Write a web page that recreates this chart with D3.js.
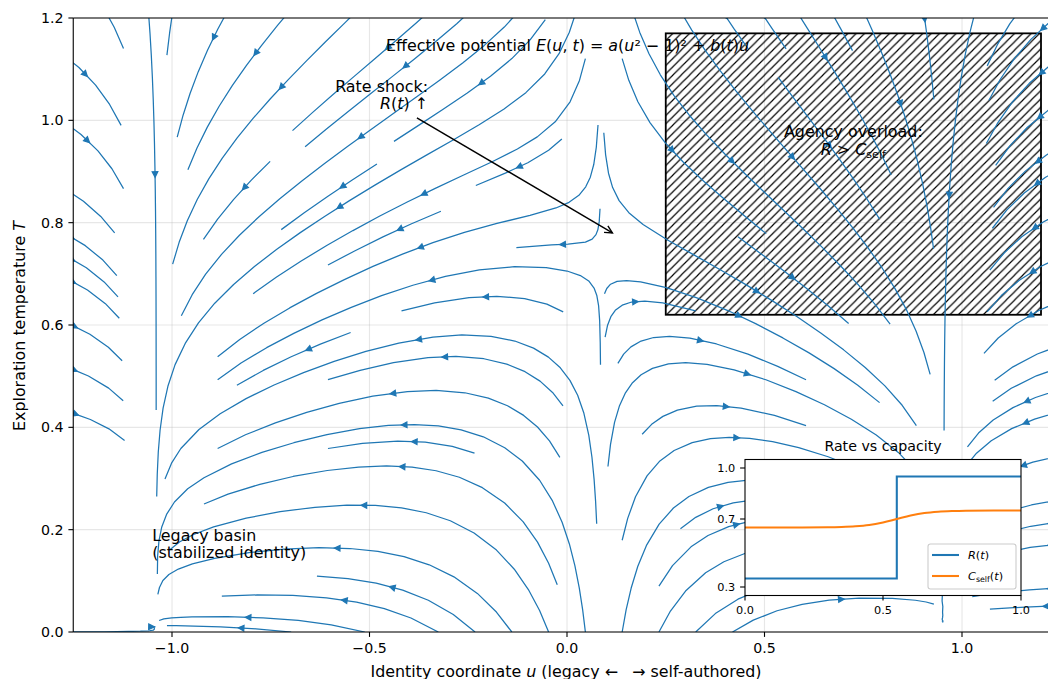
<!DOCTYPE html>
<html><head><meta charset="utf-8">
<script src="https://cdn.jsdelivr.net/npm/d3@7"></script>
<style>
body{margin:0;background:#fff;}
svg{display:block;font-family:"DejaVu Sans",sans-serif;}
text{white-space:pre;}
</style></head><body>
<svg id="chart" width="1048" height="679"></svg>
<script>
// ---------------- data ----------------
const uDomain = [-1.25, 1.25];
const tDomain = [0, 1.2];
const xTicks = [-1.0, -0.5, 0.0, 0.5, 1.0];
const yTicks = [0.0, 0.2, 0.4, 0.6, 0.8, 1.0, 1.2];
// field sampling extent (wider than the visible axes; lines are clipped)
const fieldU = [-1.35, 1.35];
const fieldT = [0, 1.3];
// Effective potential E(u) = a(u^2-1)^2 + b u ; temperature relaxes toward a heating bump
const potentialA = 1.0;
const tiltB = 0.34;
const heatAmp = 0.75;
const heatWidth = 0.354;
const relaxRate = 1.45;
const streamDensity = 1.0;
// agency overload region
const overloadU = [0.25, 1.2];
const overloadT = [0.62, 1.17];
// rate shock annotation arrow (tail, head) in data coords
const shockTail = [-0.38, 1.005];
const shockHead = [0.115, 0.78];
// inset: rate vs capacity
const insetXTicks = [0.0, 0.5, 1.0];
const insetYTicks = [0.3, 0.7, 1.0];
const rateT = [0.0, 0.55, 0.55, 1.0];
const rateR = [0.35, 0.35, 0.95, 0.95];
const capT = [0.0, 0.1, 0.2, 0.3, 0.35, 0.4, 0.45, 0.5, 0.55, 0.6, 0.65, 0.7, 0.75, 0.8, 0.9, 1.0];
const capC = [0.65, 0.65, 0.65, 0.651, 0.653, 0.657, 0.665, 0.68, 0.70, 0.72, 0.735, 0.743, 0.747, 0.749, 0.75, 0.75];

// ---------------- layout ----------------
const FS = 14.2, FSL = 15.9, FSs = 11.3;
const blue = "#1f77b4", orange = "#ff7f0e";
const x = d3.scaleLinear().domain(uDomain).range([73.25, 1060.75]);
const y = d3.scaleLinear().domain(tDomain).range([632, 18]);
const svg = d3.select("#chart");

svg.append("defs").append("clipPath").attr("id","axclip")
  .append("rect").attr("x",x.range()[0]).attr("y",y.range()[1])
  .attr("width",x.range()[1]-x.range()[0]).attr("height",y.range()[0]-y.range()[1]);
const hp = 100/12;
svg.select("defs").append("pattern").attr("id","hatch").attr("patternUnits","userSpaceOnUse")
  .attr("width",hp).attr("height",hp).attr("patternTransform","translate(6.3,0)")
  .append("path").attr("d",`M-1,1 L1,-1 M0,${hp} L${hp},0 M${hp-1},${hp+1} L${hp+1},${hp-1}`)
  .attr("stroke","#000").attr("stroke-width",1.15);

// grid
const grid = svg.append("g");
xTicks.forEach(t=>grid.append("line").attr("x1",x(t)).attr("x2",x(t)).attr("y1",y.range()[0]).attr("y2",y.range()[1]).attr("stroke","#b0b0b0").attr("stroke-opacity",0.3).attr("stroke-width",1.1));
yTicks.forEach(t=>grid.append("line").attr("y1",y(t)).attr("y2",y(t)).attr("x1",x.range()[0]).attr("x2",x.range()[1]).attr("stroke","#b0b0b0").attr("stroke-opacity",0.3).attr("stroke-width",1.1));

// overload box
svg.append("rect").attr("x",x(overloadU[0])).attr("y",y(overloadT[1]))
  .attr("width",x(overloadU[1])-x(overloadU[0])).attr("height",y(overloadT[0])-y(overloadT[1]))
  .attr("fill","url(#hatch)").attr("stroke","#000").attr("stroke-width",1.8);

// ---------------- vector field + streamplot (matplotlib algorithm) ----------------
function field(u, T){
  const du = -(potentialA*4*u*(u*u-1) + tiltB);
  const dT = relaxRate*(heatAmp*Math.exp(-u*u/(2*heatWidth*heatWidth)) - T);
  return [du, dT];
}
const NG = 140;
const xs = d3.range(NG).map(i=>fieldU[0]+i*(fieldU[1]-fieldU[0])/(NG-1));
const ys = d3.range(NG).map(i=>fieldT[0]+i*(fieldT[1]-fieldT[0])/(NG-1));

function pyRound(v){ const f=Math.floor(v), d=v-f; if(d>0.5) return f+1; if(d<0.5) return f; return (f%2===0)?f:f+1; }

function streamplot(xs, ys, density){
  const gnx=xs.length, gny=ys.length, gdx=xs[1]-xs[0], gdy=ys[1]-ys[0];
  const mnx=Math.floor(30*density), mny=Math.floor(30*density);
  const mask=new Uint8Array(mnx*mny);
  const xg2m=(mnx-1)/(gnx-1), yg2m=(mny-1)/(gny-1);
  const ug=new Float64Array(gnx*gny), vg=new Float64Array(gnx*gny), sp=new Float64Array(gnx*gny);
  for(let j=0;j<gny;j++) for(let i=0;i<gnx;i++){
    const [a,b]=field(xs[i],ys[j]); const k=j*gnx+i;
    ug[k]=a/gdx; vg[k]=b/gdy; sp[k]=Math.hypot(ug[k]/(gnx-1), vg[k]/(gny-1));
  }
  function interp(a,xi,yi){
    const xx=Math.floor(xi), yy=Math.floor(yi);
    const xn= xx===gnx-1?xx:xx+1, yn= yy===gny-1?yy:yy+1;
    const a00=a[yy*gnx+xx], a01=a[yy*gnx+xn], a10=a[yn*gnx+xx], a11=a[yn*gnx+xn];
    const xt=xi-xx, yt=yi-yy;
    const a0=a00*(1-xt)+a01*xt, a1=a10*(1-xt)+a11*xt;
    return a0*(1-yt)+a1*yt;
  }
  const within=(xi,yi)=>xi>=0&&xi<=gnx-1&&yi>=0&&yi<=gny-1;
  const OOB={}, TERM={}, INV={};
  let cur=null, traj=[];
  const g2m=(xg,yg)=>[pyRound(xg*xg2m), pyRound(yg*yg2m)];
  function maskUpdate(xm,ym){
    if(cur===null||cur[0]!==xm||cur[1]!==ym){
      const k=ym*mnx+xm;
      if(mask[k]===0){ traj.push(k); mask[k]=1; cur=[xm,ym]; }
      else throw INV;
    }
  }
  function fwd(xi,yi){
    if(!within(xi,yi)) throw OOB;
    const s=interp(sp,xi,yi);
    if(s===0) throw TERM;
    return [interp(ug,xi,yi)/s, interp(vg,xi,yi)/s];
  }
  function bwd(xi,yi){ const r=fwd(xi,yi); return [-r[0],-r[1]]; }
  const maxds=Math.min(1/mnx,1/mny,0.1);
  function euler(out,f){
    const [xi,yi]=out[out.length-1];
    const [cx,cy]=f(xi,yi);
    let dsx,dsy;
    if(cx===0) dsx=Infinity; else if(cx<0) dsx=xi/-cx; else dsx=(gnx-1-xi)/cx;
    if(cy===0) dsy=Infinity; else if(cy<0) dsy=yi/-cy; else dsy=(gny-1-yi)/cy;
    const ds=Math.min(dsx,dsy);
    out.push([xi+cx*ds, yi+cy*ds]);
    return ds;
  }
  function rk12(x0,y0,f,maxlength){
    const maxerror=0.003;
    let ds=maxds, stotal=0, xi=x0, yi=y0; const out=[];
    while(true){
      let k1,k2;
      try{
        if(within(xi,yi)) out.push([xi,yi]); else throw OOB;
        k1=f(xi,yi);
        k2=f(xi+ds*k1[0], yi+ds*k1[1]);
      }catch(e){
        if(e===OOB){ if(out.length){ try{ stotal+=euler(out,f);}catch(e2){} } break; }
        if(e===TERM) break;
        throw e;
      }
      const dx1=ds*k1[0], dy1=ds*k1[1], dx2=ds*0.5*(k1[0]+k2[0]), dy2=ds*0.5*(k1[1]+k2[1]);
      const error=Math.hypot((dx2-dx1)/(gnx-1),(dy2-dy1)/(gny-1));
      if(error<maxerror){
        xi+=dx2; yi+=dy2;
        try{
          if(!within(xi,yi)) throw INV;
          const [xm,ym]=g2m(xi,yi); maskUpdate(xm,ym);
        }catch(e){ if(e===INV) break; throw e; }
        if(stotal+ds>maxlength) break;
        stotal+=ds;
      }
      ds = error===0 ? maxds : Math.min(maxds, 0.85*ds*Math.sqrt(maxerror/error));
    }
    return [stotal,out];
  }
  const minlength=0.1, maxlength=4.0;
  function integrate(x0,y0){
    traj=[];
    try{ const [xm,ym]=g2m(x0,y0); maskUpdate(xm,ym);}catch(e){ if(e===INV) return null; throw e; }
    let stotal=0, xy=[];
    let [s,t]=rk12(x0,y0,bwd,maxlength);
    stotal+=s; xy=t.slice().reverse();
    cur=g2m(x0,y0);
    [s,t]=rk12(x0,y0,fwd,maxlength);
    stotal+=s; xy=xy.concat(t.slice(1));
    if(stotal>minlength) return xy;
    for(const k of traj) mask[k]=0;
    return null;
  }
  const trajs=[];
  let xf=0, yf=1, xl=mnx-1, yl=mny-1, px=0, py=0, dir=0;
  for(let i=0;i<mnx*mny;i++){
    if(mask[py*mnx+px]===0){
      const t=integrate(px/xg2m, py/yg2m);
      if(t) trajs.push(t.map(([a,b])=>[a*gdx+xs[0], b*gdy+ys[0]]));
    }
    if(dir===0){ px++; if(px>=xl){ xl--; dir=1; } }
    else if(dir===1){ py++; if(py>=yl){ yl--; dir=2; } }
    else if(dir===2){ px--; if(px<=xf){ xf++; dir=3; } }
    else { py--; if(py<=yf){ yf++; dir=0; } }
  }
  return trajs;
}

const trajs = streamplot(xs, ys, streamDensity);
const sg = svg.append("g").attr("clip-path","url(#axclip)");
const line = d3.line().x(d=>x(d[0])).y(d=>y(d[1]));
sg.selectAll("path.sl").data(trajs).enter().append("path").attr("class","sl")
  .attr("d",line).attr("fill","none").attr("stroke",blue).attr("stroke-width",1.25)
  .attr("stroke-linejoin","round").attr("stroke-linecap","butt");
// arrows at half-length
const HL=5.56, HW=2.78;
trajs.forEach(t=>{
  if(t.length<2) return;
  const s=[]; let acc=0;
  for(let i=1;i<t.length;i++){ acc+=Math.hypot(t[i][0]-t[i-1][0], t[i][1]-t[i-1][1]); s.push(acc); }
  const half=acc/2; let n=0; while(n<s.length && s[n]<half) n++;
  if(n>=t.length-1) n=t.length-2;
  const tail=[x(t[n][0]), y(t[n][1])];
  const head=[x((t[n][0]+t[n+1][0])/2), y((t[n][1]+t[n+1][1])/2)];
  let dx=head[0]-tail[0], dy=head[1]-tail[1]; const L=Math.hypot(dx,dy);
  if(L===0) return; dx/=L; dy/=L;
  const bx=head[0]-dx*HL, by=head[1]-dy*HL;
  const p=[[head[0],head[1]],[bx-dy*HW,by+dx*HW],[bx+dy*HW,by-dx*HW]];
  sg.append("path").attr("d","M"+p.map(q=>q.join(",")).join("L")+"Z")
    .attr("fill",blue).attr("stroke",blue).attr("stroke-width",1.25).attr("stroke-linejoin","miter");
});

// ---------------- axes ----------------
const ax = svg.append("g");
ax.append("line").attr("x1",x.range()[0]).attr("x2",x.range()[0]).attr("y1",y.range()[0]).attr("y2",y.range()[1]).attr("stroke","#000").attr("stroke-width",1.1);
ax.append("line").attr("x1",x.range()[0]).attr("x2",x.range()[1]).attr("y1",y.range()[0]).attr("y2",y.range()[0]).attr("stroke","#000").attr("stroke-width",1.1);
ax.append("line").attr("x1",x.range()[0]).attr("x2",x.range()[1]).attr("y1",y.range()[1]).attr("y2",y.range()[1]).attr("stroke","#000").attr("stroke-width",1.1);
const fmt = v => d3.format(".1f")(v).replace("-","−");
xTicks.forEach(t=>{
  ax.append("line").attr("x1",x(t)).attr("x2",x(t)).attr("y1",632).attr("y2",636.9).attr("stroke","#000").attr("stroke-width",1.1);
  ax.append("text").attr("x",x(t)).attr("y",652.5).attr("text-anchor","middle").style("font-size",FS+"px").text(fmt(t));
});
yTicks.forEach(t=>{
  ax.append("line").attr("x1",73.25).attr("x2",68.4).attr("y1",y(t)).attr("y2",y(t)).attr("stroke","#000").attr("stroke-width",1.1);
  ax.append("text").attr("x",63.5).attr("y",y(t)+5.1).attr("text-anchor","end").style("font-size",FS+"px").text(fmt(t));
});

function richText(g, xx, yy, anchor, parts, fs){
  const t = g.append("text").attr("x",xx).attr("y",yy).attr("text-anchor",anchor).style("font-size",fs+"px");
  parts.forEach(p=>{
    const ts = t.append("tspan").text(p[0]);
    if(p[1]==="i") ts.style("font-style","italic");
    if(p[1]==="sub") ts.style("font-size",(fs*0.7)+"px").attr("dy",fs*0.22);
    if(p[1]==="unsub") ts.attr("dy",-fs*0.22);
    if(p[2]) ts.attr("dx",p[2]);
  });
  return t;
}
// x label
richText(svg, 566, 676.5, "middle", [["Identity coordinate ",""],["u","i"],[" (legacy ← ",""],["→ self-authored)","",9]], FSL);
// y label
richText(svg.append("g").attr("transform","translate(24.5,326) rotate(-90)"), 0, 0, "middle",
  [["Exploration temperature ",""],["T","i"]], FSL);

// ---------------- annotations ----------------
const tg = svg.append("g");
richText(tg, x(0.0)+0.5, 50.5, "middle", [["Effective potential ",""],["E","i"],["(",""],["u","i"],[", ",""],["t","i"],[") = ",""],["a","i"],["(",""],["u","i"],["² − 1)² + ",""],["b","i"],["(",""],["t","i"],[")",""],["u","i"]], FSL);
richText(tg, 428, 91.5, "end", [["Rate shock:",""]], FSL);
richText(tg, 428, 109, "end", [["R","i"],["(",""],["t","i"],[") ↑",""]], FSL);
const cx = (x(overloadU[0])+x(overloadU[1]))/2;
richText(tg, cx, 137, "middle", [["Agency overload:",""]], FSL);
richText(tg, cx, 154.5, "middle", [["R","i"],[" > ",""],["C","i"],["self","sub"]], FSL);
richText(tg, x(-1.05), 540.5, "start", [["Legacy basin",""]], FSL);
richText(tg, x(-1.05), 558, "start", [["(stabilized identity)",""]], FSL);
// arrow
{
  const ax0=x(shockTail[0]), ay0=y(shockTail[1]), ax1=x(shockHead[0]), ay1=y(shockHead[1]);
  let dx=ax1-ax0, dy=ay1-ay0; const L=Math.hypot(dx,dy); dx/=L; dy/=L;
  tg.append("line").attr("x1",ax0).attr("y1",ay0).attr("x2",ax1).attr("y2",ay1).attr("stroke","#000").attr("stroke-width",1.4);
  const hl=7.5, hw=3.8, bx=ax1-dx*hl, by=ay1-dy*hl;
  tg.append("path").attr("d",`M${bx-dy*hw},${by+dx*hw}L${ax1},${ay1}L${bx+dy*hw},${by-dx*hw}`)
    .attr("fill","none").attr("stroke","#000").attr("stroke-width",1.4);
}

// ---------------- inset ----------------
const ix = d3.scaleLinear().domain([0,1]).range([745,1021]);
const iy = d3.scaleLinear().domain([0.25,1.05]).range([595.5,459.5]);
const ig = svg.append("g");
ig.append("rect").attr("x",745).attr("y",459.5).attr("width",276).attr("height",136).attr("fill","#fff");
ig.append("path").datum(rateT.map((t,i)=>[t,rateR[i]])).attr("d",d3.line().x(d=>ix(d[0])).y(d=>iy(d[1])))
  .attr("fill","none").attr("stroke",blue).attr("stroke-width",2.08);
ig.append("path").datum(capT.map((t,i)=>[t,capC[i]])).attr("d",d3.line().curve(d3.curveMonotoneX).x(d=>ix(d[0])).y(d=>iy(d[1])))
  .attr("fill","none").attr("stroke",orange).attr("stroke-width",2.08);
ig.append("rect").attr("x",745).attr("y",459.5).attr("width",276).attr("height",136).attr("fill","none").attr("stroke","#000").attr("stroke-width",1.1);
insetXTicks.forEach(t=>{
  ig.append("line").attr("x1",ix(t)).attr("x2",ix(t)).attr("y1",595.5).attr("y2",600.4).attr("stroke","#000").attr("stroke-width",1.1);
  ig.append("text").attr("x",ix(t)).attr("y",614).attr("text-anchor","middle").style("font-size",FSs+"px").text(d3.format(".1f")(t));
});
insetYTicks.forEach(t=>{
  ig.append("line").attr("x1",745).attr("x2",740.1).attr("y1",iy(t)).attr("y2",iy(t)).attr("stroke","#000").attr("stroke-width",1.1);
  ig.append("text").attr("x",735.3).attr("y",iy(t)+4).attr("text-anchor","end").style("font-size",FSs+"px").text(d3.format(".1f")(t));
});
richText(ig, 883, 451, "middle", [["Rate vs capacity",""]], FS);
// legend
const lg = ig.append("g");
lg.append("rect").attr("x",928).attr("y",544).attr("width",88).attr("height",45).attr("rx",2.5)
  .attr("fill","#fff").attr("fill-opacity",0.8).attr("stroke","#cccccc").attr("stroke-width",1.1);
lg.append("line").attr("x1",932).attr("x2",959).attr("y1",555).attr("y2",555).attr("stroke",blue).attr("stroke-width",2.08);
lg.append("line").attr("x1",932).attr("x2",959).attr("y1",576).attr("y2",576).attr("stroke",orange).attr("stroke-width",2.08);
richText(lg, 968, 559, "start", [["R","i"],["(",""],["t","i"],[")",""]], FSs);
richText(lg, 968, 580, "start", [["C","i"],["self","sub"],["(","unsub"],["t","i"],[")",""]], FSs);
</script>
</body></html>
